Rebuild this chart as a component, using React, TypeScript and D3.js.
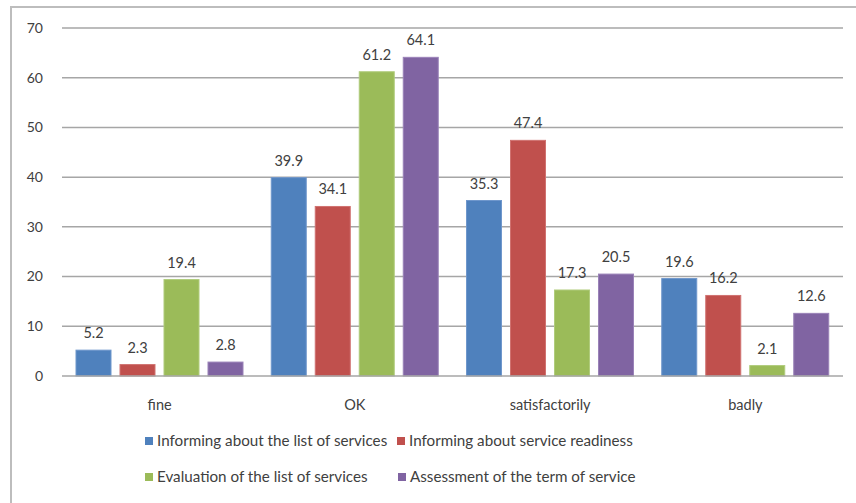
import React from "react";
import * as d3 from "d3";

const categories = ["fine", "OK", "satisfactorily", "badly"];
const seriesNames = [
  "Informing about the list of services",
  "Informing about service readiness",
  "Evaluation of the list of services",
  "Assessment of the term of service",
];
const informingList = [5.2, 39.9, 35.3, 19.6];
const informingReadiness = [2.3, 34.1, 47.4, 16.2];
const evaluationList = [19.4, 61.2, 17.3, 2.1];
const assessmentTerm = [2.8, 64.1, 20.5, 12.6];
const yTicks = [0, 10, 20, 30, 40, 50, 60, 70];

const seriesValues = [informingList, informingReadiness, evaluationList, assessmentTerm];
const colors = ["#4F81BD", "#C0504D", "#9BBB59", "#8064A2"];
const strokes = ["#6f97cc", "#d07270", "#b0cc7c", "#9a82b8"];

export default function App() {
  const W = 856, H = 503;
  const left = 62, right = 843, top = 28, bottom = 376;
  const font = "Lato, 'Open Sans', sans-serif";
  const y = d3.scaleLinear().domain([0, 70]).range([bottom, top]);
  const x0 = d3.scaleBand().domain(categories).range([left, right]).paddingInner(0).paddingOuter(0);
  const x1 = d3.scaleBand<number>().domain([0, 1, 2, 3]).range([14, 181]).paddingInner(9 / 44).paddingOuter(0);

  const legend = [
    { i: 0, x: 145, y: 441 },
    { i: 1, x: 397, y: 441 },
    { i: 2, x: 145, y: 477 },
    { i: 3, x: 398, y: 477 },
  ];

  return (
    <svg width={W} height={H} style={{ position: "absolute", left: 0, top: 0, background: "#fff" }} fontFamily={font}>
      <rect x={11} y={7} width={W + 10} height={H + 10} fill="#fff" stroke="#bdbdbd" strokeWidth={2} />
      {yTicks.map((t) => (
        <g key={t}>
          {t > 0 && <line x1={left} x2={right} y1={y(t)} y2={y(t)} stroke="#a6a6a6" strokeWidth={1.5} />}
          <text x={43} y={y(t)} dy="0.35em" textAnchor="end" fontSize={14} fill="#404040">{t}</text>
        </g>
      ))}
      {categories.map((c, ci) => (
        <g key={c} transform={`translate(${x0(c)},0)`}>
          {seriesValues.map((vals, si) => {
            const v = vals[ci];
            const bx = x1(si)!;
            return (
              <g key={si}>
                <rect x={bx} y={y(v)} width={x1.bandwidth()} height={bottom - y(v)} fill={colors[si]} stroke={strokes[si]} strokeWidth={1} />
                <text x={bx + x1.bandwidth() / 2} y={y(v) - 12} textAnchor="middle" fontSize={14.5} fill="#404040">{v.toFixed(1)}</text>
              </g>
            );
          })}
          <text x={x0.bandwidth() / 2} y={405} dy="0.35em" textAnchor="middle" fontSize={14.5} fill="#404040">{c}</text>
        </g>
      ))}
      <line x1={left} x2={right} y1={bottom} y2={bottom} stroke="#a6a6a6" strokeWidth={1.5} />
      {legend.map((l) => (
        <g key={l.i}>
          <rect x={l.x} y={l.y - 4} width={8} height={8} fill={colors[l.i]} />
          <text x={l.x + 12} y={l.y} dy="0.35em" fontSize={15.2} fill="#404040">{seriesNames[l.i]}</text>
        </g>
      ))}
    </svg>
  );
}
